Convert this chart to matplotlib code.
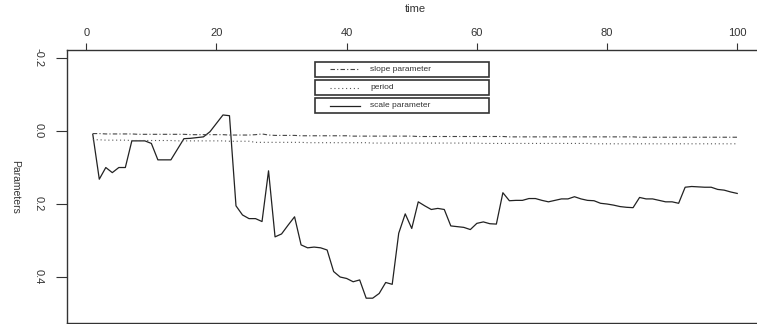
import matplotlib
matplotlib.use("Agg")
import matplotlib.pyplot as plt
from matplotlib.lines import Line2D
from matplotlib.patches import Rectangle

plt.rcParams['font.family'] = ['Liberation Sans', 'DejaVu Sans']

# time index
time = list(range(1, 101))

# solid line: scale parameter
scale_par = [0.009, 0.132, 0.100, 0.114, 0.100, 0.100, 0.027, 0.027, 0.027, 0.034,
             0.079, 0.079, 0.079, 0.050, 0.021, 0.020, 0.018, 0.016, 0.002, -0.021,
             -0.044, -0.042, 0.205, 0.230, 0.240, 0.240, 0.248, 0.109, 0.290, 0.282,
             0.258, 0.235, 0.312, 0.320, 0.318, 0.320, 0.326, 0.385, 0.400, 0.404,
             0.413, 0.408, 0.458, 0.458, 0.445, 0.415, 0.420, 0.280, 0.227, 0.267,
             0.194, 0.205, 0.215, 0.212, 0.215, 0.260, 0.262, 0.264, 0.270, 0.253,
             0.249, 0.254, 0.255, 0.169, 0.191, 0.190, 0.190, 0.185, 0.185, 0.190,
             0.194, 0.190, 0.186, 0.186, 0.180, 0.186, 0.190, 0.191, 0.198, 0.200,
             0.203, 0.207, 0.209, 0.210, 0.182, 0.186, 0.186, 0.190, 0.194, 0.194,
             0.198, 0.154, 0.152, 0.153, 0.154, 0.154, 0.160, 0.162, 0.167, 0.171]

# dotted line
period = [0.024, 0.024, 0.025, 0.025, 0.025, 0.025, 0.026, 0.026, 0.026, 0.026,
          0.026, 0.026, 0.026, 0.027, 0.027, 0.027, 0.027, 0.027, 0.027, 0.027,
          0.027, 0.028, 0.028, 0.028, 0.028, 0.031, 0.031, 0.031, 0.031, 0.031,
          0.031, 0.031, 0.031, 0.032, 0.032, 0.032, 0.032, 0.032, 0.032, 0.032,
          0.032, 0.032, 0.032, 0.033, 0.033, 0.033, 0.033, 0.033, 0.033, 0.033,
          0.033, 0.033, 0.033, 0.033, 0.033, 0.033, 0.033, 0.033, 0.033, 0.033,
          0.034, 0.034, 0.034, 0.034, 0.034, 0.034, 0.034, 0.034, 0.034, 0.034,
          0.034, 0.034, 0.034, 0.034, 0.034, 0.034, 0.034, 0.035, 0.035, 0.035,
          0.035, 0.035, 0.035, 0.035, 0.035, 0.035, 0.035, 0.035, 0.035, 0.035,
          0.035, 0.035, 0.035, 0.035, 0.035, 0.035, 0.035, 0.035, 0.035, 0.035]

# dash-dot line: slope parameter
slope_par = [0.007, 0.007, 0.008, 0.008, 0.008, 0.008, 0.008, 0.009, 0.009, 0.009,
             0.009, 0.009, 0.009, 0.009, 0.009, 0.010, 0.010, 0.010, 0.010, 0.010,
             0.010, 0.011, 0.011, 0.011, 0.011, 0.010, 0.008, 0.011, 0.012, 0.012,
             0.012, 0.012, 0.013, 0.013, 0.013, 0.013, 0.013, 0.013, 0.013, 0.013,
             0.014, 0.014, 0.014, 0.014, 0.014, 0.014, 0.014, 0.014, 0.014, 0.014,
             0.015, 0.015, 0.015, 0.015, 0.015, 0.015, 0.015, 0.015, 0.015, 0.015,
             0.015, 0.015, 0.015, 0.015, 0.016, 0.016, 0.016, 0.016, 0.016, 0.016,
             0.016, 0.016, 0.016, 0.016, 0.016, 0.016, 0.016, 0.016, 0.016, 0.016,
             0.016, 0.016, 0.016, 0.016, 0.017, 0.017, 0.017, 0.017, 0.017, 0.017,
             0.017, 0.017, 0.017, 0.017, 0.017, 0.017, 0.017, 0.017, 0.017, 0.017]

x_ticks = [0, 20, 40, 60, 80, 100]
y_ticks = [-0.2, 0.0, 0.2, 0.4]
y_tick_labels = ['-0.2', '0.0', '0.2', '0.4']
legend_labels = ['slope parameter', 'period', 'scale parameter']

W, H = 757, 324
fig = plt.figure(figsize=(W / 100, H / 100), dpi=100)
ax = fig.add_axes([67 / W, 1 / H, 696 / W, 273 / H])

ax.plot(time, scale_par, color='#222222', lw=0.9, ls='-')
ax.plot(time, period, color='#555555', lw=0.8, ls=(0, (1, 2.5)))
ax.plot(time, slope_par, color='#444444', lw=0.8, ls=(0, (4, 2, 1, 2)))

ax.set_xlim(-2.96, 103.96)
ax.set_ylim(0.526, -0.222)

ax.xaxis.tick_top()
ax.xaxis.set_label_position('top')
ax.set_xticks(x_ticks)
ax.set_xticklabels([str(v) for v in x_ticks])
ax.set_yticks(y_ticks)
ax.set_yticklabels(y_tick_labels, rotation=270, va='center')
ax.tick_params(axis='x', length=5, width=0.8, pad=4, labelsize=8, colors='#333333')
ax.tick_params(axis='y', length=8, width=0.8, pad=9, labelsize=8, colors='#333333')
ax.set_xlabel('time', fontsize=8, labelpad=11, color='#333333')
ax.set_ylabel('Parameters', fontsize=7.5, labelpad=13, rotation=270,
              va='center', color='#333333')
for s in ax.spines.values():
    s.set_color('#333333')
    s.set_linewidth(1.0)

# three stacked legend boxes (pixel positions in the figure)
def px(x, y):
    return x / W, 1 - y / H

styles = [dict(ls=(0, (4, 2, 1, 2)), color='#444444', lw=0.8),
          dict(ls=(0, (1, 2.5)), color='#555555', lw=0.8),
          dict(ls='-', color='#222222', lw=0.9)]
box_tops = [62, 80, 98]
box_h = 15
for top, lab, st in zip(box_tops, legend_labels, styles):
    x0, y0 = px(315, top + box_h)
    fig.add_artist(Rectangle((x0, y0), 174 / W, box_h / H, transform=fig.transFigure,
                             fill=False, edgecolor='#333333', lw=1.2))
    yl = 1 - (top + box_h / 2) / H
    fig.add_artist(Line2D([330 / W, 360 / W], [yl, yl], transform=fig.transFigure, **st))
    fig.text(370 / W, yl, lab, fontsize=6, va='center', ha='left', color='#333333')

fig.savefig('out.png', dpi=100)
